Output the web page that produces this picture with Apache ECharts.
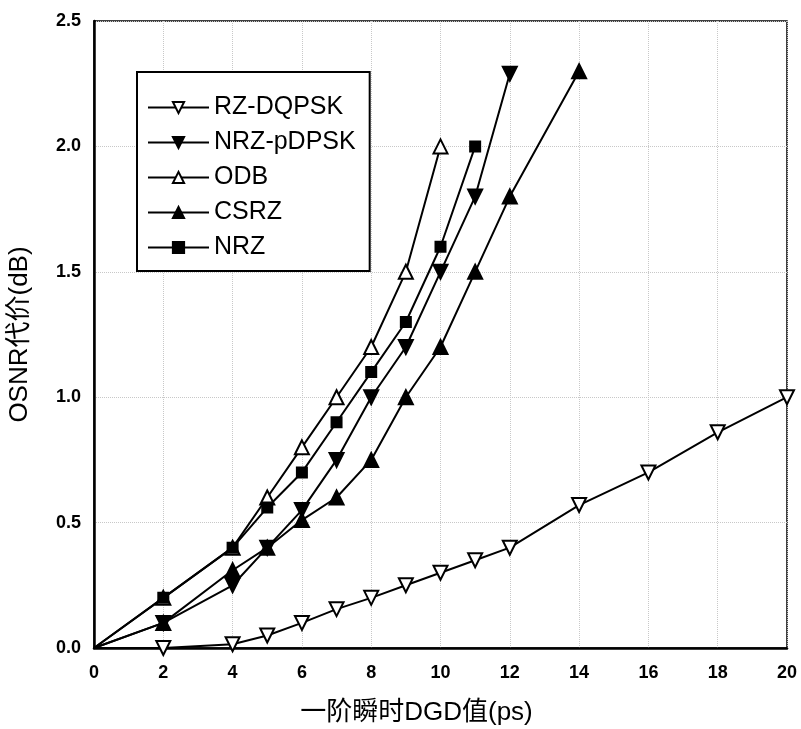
<!DOCTYPE html>
<html>
<head>
<meta charset="utf-8">
<script src="https://cdn.jsdelivr.net/npm/echarts@6/dist/echarts.min.js"></script>
<style>html,body{margin:0;padding:0;background:#fff}#c{width:801px;height:729px}</style>
</head>
<body>
<div id="c"></div>
<script>
// ---- data ----
const seriesNames = ['RZ-DQPSK', 'NRZ-pDPSK', 'ODB', 'CSRZ', 'NRZ'];
const xRZDQPSK = [0, 2, 4, 5, 6, 7, 8, 9, 10, 11, 12, 14, 16, 18, 20];
const yRZDQPSK = [0, 0, 0.015, 0.05, 0.1, 0.155, 0.2, 0.25, 0.3, 0.35, 0.4, 0.57, 0.7, 0.86, 1.0];
const xNRZpDPSK = [0, 2, 4, 5, 6, 7, 8, 9, 10, 11, 12];
const yNRZpDPSK = [0, 0.1, 0.25, 0.4, 0.55, 0.75, 1.0, 1.2, 1.5, 1.8, 2.29];
const xODB = [0, 2, 4, 5, 6, 7, 8, 9, 10];
const yODB = [0, 0.2, 0.4, 0.6, 0.8, 1.0, 1.2, 1.5, 2.0];
const xCSRZ = [0, 2, 4, 5, 6, 7, 8, 9, 10, 11, 12, 14];
const yCSRZ = [0, 0.1, 0.31, 0.4, 0.51, 0.6, 0.75, 1.0, 1.2, 1.5, 1.8, 2.3];
const xNRZ = [0, 2, 4, 5, 6, 7, 8, 9, 10, 11];
const yNRZ = [0, 0.2, 0.4, 0.56, 0.7, 0.9, 1.1, 1.3, 1.6, 2.0];
const xTicks = [0, 2, 4, 6, 8, 10, 12, 14, 16, 18, 20];
const yTicks = [0.0, 0.5, 1.0, 1.5, 2.0, 2.5];
const xAxisName = '一阶瞬时DGD值(ps)';
const yAxisName = 'OSNR代价(dB)';

// ---- chart ----
const FONT = '"Liberation Sans", Arial, "Noto Sans CJK SC", sans-serif';
function pairs(xs, ys) {
  return xs.map((x, i) => x === 0 ? { value: [x, ys[i]], symbol: 'none' } : [x, ys[i]]);
}
const styles = [
  { symbol: 'triangle', rotate: 180, fill: '#fff', size: 14 },
  { symbol: 'triangle', rotate: 180, fill: '#000', size: 14 },
  { symbol: 'triangle', rotate: 0, fill: '#fff', size: 14 },
  { symbol: 'triangle', rotate: 0, fill: '#000', size: 14 },
  { symbol: 'rect', rotate: 0, fill: '#000', size: 10 }
];
const dataSets = [
  pairs(xRZDQPSK, yRZDQPSK),
  pairs(xNRZpDPSK, yNRZpDPSK),
  pairs(xODB, yODB),
  pairs(xCSRZ, yCSRZ),
  pairs(xNRZ, yNRZ)
];
const series = seriesNames.map((name, i) => ({
  name: name,
  type: 'line',
  data: dataSets[i],
  symbol: styles[i].symbol,
  symbolRotate: styles[i].rotate,
  symbolSize: styles[i].size,
  showAllSymbol: true,
  lineStyle: { color: '#000', width: 2 },
  itemStyle: { color: styles[i].fill, borderColor: '#000', borderWidth: 2 },
  emphasis: { disabled: true },
  animation: false,
  z: 2 + i
}));

const chart = echarts.init(document.getElementById('c'), null, { renderer: 'canvas' });
chart.setOption({
  backgroundColor: '#fff',
  animation: false,
  grid: {
    left: 94, right: 14, top: 21, bottom: 81,
    outerBoundsMode: 'none', containLabel: false,
    show: true, borderColor: '#000', borderWidth: 1.5, backgroundColor: 'transparent'
  },
  legend: {
    orient: 'vertical',
    left: 137, top: 72,
    data: seriesNames,
    itemWidth: 61, itemHeight: 14, itemGap: 10,
    padding: [23, 14, 11, 10],
    borderColor: '#000', borderWidth: 2, backgroundColor: '#fff',
    textStyle: { fontFamily: FONT, fontSize: 25, color: '#000', lineHeight: 24 },
    selectedMode: false
  },
  xAxis: {
    type: 'value', min: 0, max: 20, interval: 2,
    name: xAxisName, nameLocation: 'middle', nameGap: 52, nameMoveOverlap: false,
    nameTextStyle: { fontFamily: FONT, fontSize: 26, color: '#000', padding: [0, 48, 0, 0] },
    axisLine: { show: true, lineStyle: { color: '#000', width: 2.5 } },
    axisTick: { show: false },
    axisLabel: {
      margin: 16, color: '#000', fontFamily: FONT, fontWeight: 'bold', fontSize: 18,
      formatter: v => xTicks.includes(v) ? String(v) : ''
    },
    splitLine: { show: true, lineStyle: { color: '#c8c8c8', type: 'dotted', width: 1 } }
  },
  yAxis: {
    type: 'value', min: 0, max: 2.5, interval: 0.5,
    name: yAxisName, nameLocation: 'middle', nameGap: 61, nameMoveOverlap: false,
    nameTextStyle: { fontFamily: FONT, fontSize: 26, color: '#000' },
    axisLine: { show: true, lineStyle: { color: '#000', width: 2.5 } },
    axisTick: { show: false },
    axisLabel: {
      margin: 13, color: '#000', fontFamily: FONT, fontWeight: 'bold', fontSize: 18,
      formatter: v => yTicks.some(t => Math.abs(t - v) < 1e-9) ? v.toFixed(1) : ''
    },
    splitLine: { show: true, lineStyle: { color: '#c8c8c8', type: 'dotted', width: 1 } }
  },
  series: series
});
</script>
</body>
</html>
